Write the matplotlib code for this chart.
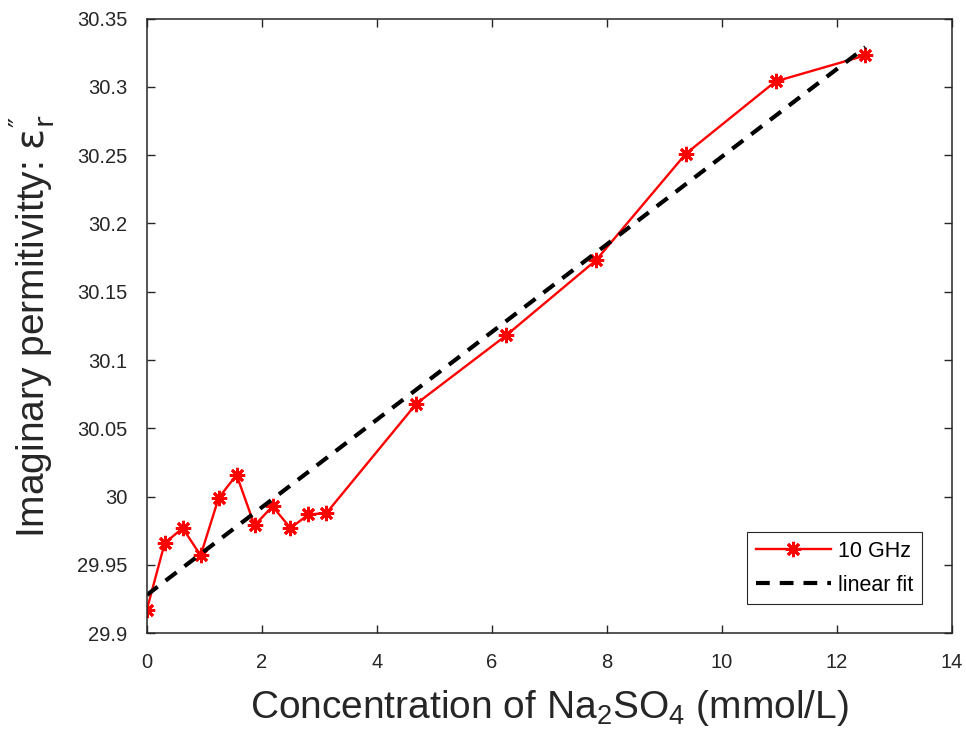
import matplotlib.pyplot as plt

# measured imaginary permittivity at 10 GHz
conc = [0, 0.3125, 0.625, 0.9375, 1.25, 1.5625, 1.875, 2.1875, 2.5, 2.8125, 3.125,
        4.6875, 6.25, 7.8125, 9.375, 10.9375, 12.5]
eps_im = [29.917, 29.966, 29.977, 29.957, 29.999, 30.016, 29.979, 29.993, 29.977,
          29.987, 29.988, 30.068, 30.118, 30.173, 30.251, 30.304, 30.323]

# linear fit end points
fit_x = [0, 12.5]
fit_y = [29.928, 30.329]

plt.rcParams['font.family'] = ['Liberation Sans', 'DejaVu Sans']
plt.rcParams['mathtext.fontset'] = 'custom'
plt.rcParams['mathtext.rm'] = 'Liberation Sans'
plt.rcParams['mathtext.it'] = 'Liberation Sans:italic'

fig = plt.figure(figsize=(9.66, 7.42), dpi=100)
ax = fig.add_axes([0.1519, 0.1465, 0.8333, 0.8285])

ax.plot(conc, eps_im, color='#ff0000', lw=1.7, marker=(8, 2, 0), ms=11, mew=2,
        label='10 GHz')
ax.plot(fit_x, fit_y, color='black', lw=3, ls=(0, (3.3, 2.4)), label='linear fit')

ax.set_xlim(0, 14)
ax.set_ylim(29.9, 30.35)
ax.set_xticks(range(0, 15, 2))
yt = [29.9, 29.95, 30, 30.05, 30.1, 30.15, 30.2, 30.25, 30.3, 30.35]
ax.set_yticks(yt)
ax.set_yticklabels(['29.9', '29.95', '30', '30.05', '30.1', '30.15', '30.2',
                    '30.25', '30.3', '30.35'])
ax.tick_params(direction='in', top=True, right=True, labelsize=14.5, length=5.5,
               width=1, colors='#262626', pad=14)
for s in ax.spines.values():
    s.set_color('#262626')
    s.set_linewidth(1.1)

ax.set_xlabel('Concentration of Na$_2$SO$_4$ (mmol/L)', fontsize=28,
              color='#262626', labelpad=12)
ax.set_ylabel('Imaginary permitivitty: $\\mathrm{\\epsilon}_\\mathrm{r}^{\u2033}$',
              fontsize=28, color='#262626', labelpad=14, math_fontfamily='dejavusans')

leg = ax.legend(loc='lower right', bbox_to_anchor=(0.963, 0.047), borderaxespad=0,
                fontsize=15.5, fancybox=False, framealpha=1, edgecolor='#262626',
                handlelength=3.5, borderpad=0.4, labelspacing=0.6, handletextpad=0.33)
leg.get_frame().set_linewidth(0.8)

plt.savefig('out.png', dpi=100)
